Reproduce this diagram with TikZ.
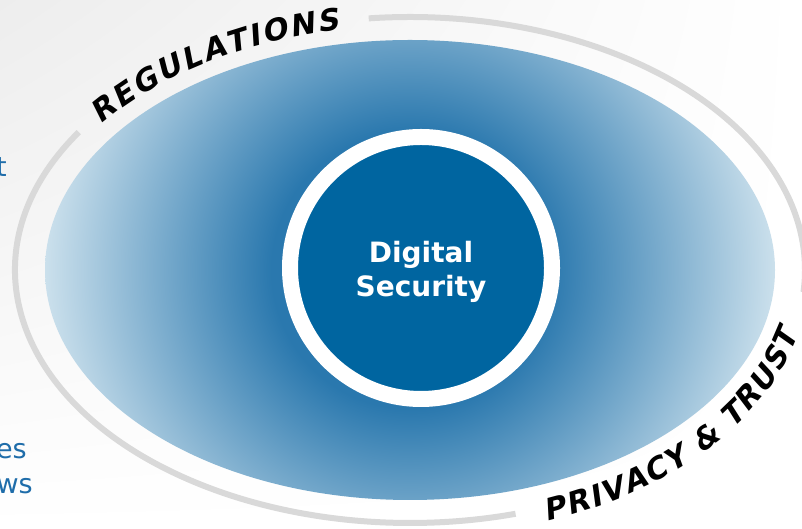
\documentclass[tikz,border=0pt]{standalone}
\usepackage{fontspec}
\setmainfont{DejaVu Sans}
\newfontfamily\curvefam{DejaVu Sans Bold}[FakeSlant=0.21]
\usetikzlibrary{decorations.text,shadings}
\definecolor{secblue}{HTML}{0065A0}
\definecolor{secring}{HTML}{D9D9D9}
\definecolor{secside}{HTML}{1F6DAA}
\definecolor{secinner}{HTML}{2A78AE}
\definecolor{secouter}{HTML}{CBE0EC}
\pgfdeclareradialshading{secglow}{\pgfpointorigin}{color(0bp)=(secinner); color(9.5bp)=(secinner); color(25bp)=(secouter); color(50bp)=(secouter)}
\newcommand\curvefont{\curvefam\fontsize{30}{36}\selectfont}

\begin{document}
\begin{tikzpicture}[x=1pt,y=1pt]

        \def \cx {410}
        \def \cy {259}
        \def \rxfield {365}
        \def \ryfield {230}
        \def \rxring {395}
        \def \ryring {253}

        \tikzset{ringline/.style={draw=secring,line width=6pt},
                 curvetext/.style={font=\curvefont,decorate,
                     decoration={text along path,text align={fit to path},text={|\curvefont|#1}}},
                 sidetext/.style={anchor=base east,inner sep=0pt,text=secside,font=\fontsize{27}{32}\selectfont}}

        % Draw background
        \useasboundingbox (0,0) rectangle (802,529);
        \shade[upper left=black!7,upper right=white,lower left=white,lower right=white] (0,0) rectangle (802,529);

        % Draw field
        \begin{scope}
            \clip (\cx,\cy) ellipse [x radius=\rxfield, y radius=\ryfield];
            \shade[shading=secglow] (\cx,\cy) circle [radius=\rxfield];
        \end{scope}

        % Draw outer ring
        \draw[ringline] (\cx,\cy) ++(147:{\rxring} and {\ryring})
            arc [start angle=147, end angle=285.5, x radius=\rxring, y radius=\ryring];
        \draw[ringline] (\cx,\cy) ++(-5:{\rxring} and {\ryring})
            arc [start angle=-5, end angle=96, x radius=\rxring, y radius=\ryring];

        % Draw core
        \node (core) at (421,261) [circle,fill=secblue,draw=white,line width=16pt,minimum size=262pt,inner sep=0pt] {};
        \node (corelabel) at ([yshift=-4pt]core.center) [text=white,font=\fontsize{28}{34}\selectfont\bfseries,align=center] {Digital\\Security};

        % Curved labels
        \begin{scope}
            \curvefont
            \path[curvetext={REGULATIONS}] (\cx,\cy) ++(143.5:385 and 244)
                arc [start angle=143.5, end angle=100.5, x radius=385, y radius=244];
            \path[curvetext={PRIVACY {\&} TRUST}] (\cx,\cy) ++(-70:400 and 268)
                arc [start angle=-70, end angle=-14, x radius=400, y radius=268];
        \end{scope}

        % Side texts
        \node[sidetext] (sidet) at (7,352) {t};
        \node[sidetext] (sidees) at (27,70) {es};
        \node[sidetext] (sidews) at (33,35) {ws};

    \end{tikzpicture}
\end{document}
